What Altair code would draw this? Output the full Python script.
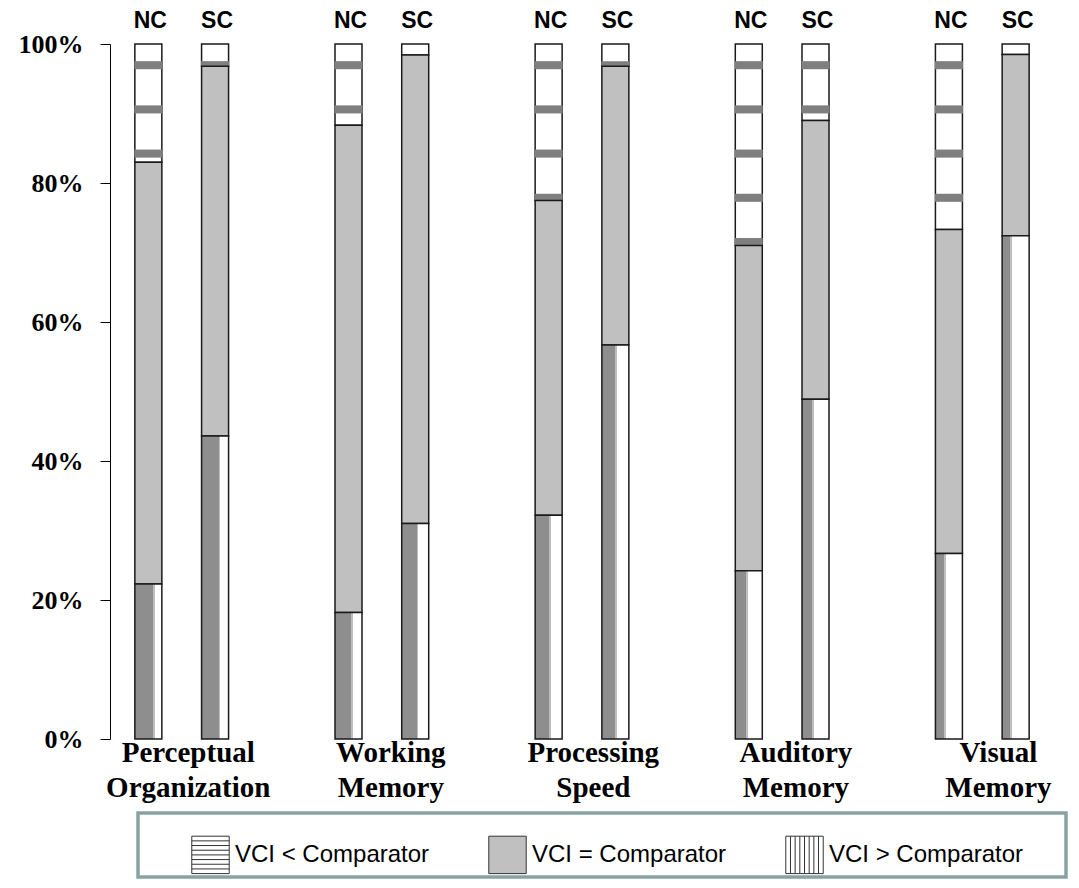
import altair as alt
import pandas as pd

# ---------------- data ----------------
groups = ["Perceptual Organization", "Working Memory", "Processing Speed",
          "Auditory Memory", "Visual Memory"]
samples = ["NC", "SC"]
categories = ["VCI < Comparator", "VCI = Comparator", "VCI > Comparator"]

# percentage of each bar, order: PO-NC, PO-SC, WM-NC, WM-SC, PS-NC, PS-SC, AM-NC, AM-SC, VM-NC, VM-SC
vci_greater = [22.3, 43.6, 18.2, 31.0, 32.2, 56.7, 24.2, 48.9, 26.7, 72.4]
vci_equal = [60.7, 53.2, 70.1, 67.4, 45.3, 40.1, 46.8, 40.1, 46.6, 26.1]
vci_less = [17.0, 3.2, 11.7, 1.6, 22.5, 3.2, 29.0, 11.0, 26.7, 1.5]

# ---------------- style ----------------
dark_share = [0.66, 0.63, 0.58, 0.55, 0.50, 0.48, 0.40, 0.37, 0.33, 0.30]  # vertical hatch rendering
STRIPE_TOP = 0.9695
STRIPE_STEP = 0.0636
STRIPE_HALF = 0.0058
BAR_W = 27
EDGE = "#1a1a1a"
LABEL_STEP, LABEL_START = 3.036, 0.598  # category label spacing (in bar slots)

rows, stripes = [], []
for gi, g in enumerate(groups):
    for si, s in enumerate(samples):
        i = gi * 2 + si
        slot = gi * 3 + si
        a = vci_greater[i] / 100
        b = a + vci_equal[i] / 100
        c = b + vci_less[i] / 100
        rows.append(dict(bar=i, slot=slot, sample=s, seg=">", y=0.0, y2=a))
        rows.append(dict(bar=i, slot=slot, sample=s, seg="=", y=a, y2=b))
        rows.append(dict(bar=i, slot=slot, sample=s, seg="<", y=b, y2=c))
        k = 0
        while True:
            cen = STRIPE_TOP - k * STRIPE_STEP
            lo, hi = cen - STRIPE_HALF, cen + STRIPE_HALF
            if hi <= b:
                break
            stripes.append(dict(slot=slot, y=max(lo, b), y2=hi))
            k += 1

seg_df = pd.DataFrame(rows)
stripe_df = pd.DataFrame(stripes)
bar_df = seg_df[seg_df.seg == ">"][["bar", "slot", "sample"]]
grp_df = pd.DataFrame({"group": groups,
                       "center": [LABEL_START + gi * LABEL_STEP for gi in range(len(groups))]})
leg_df = pd.DataFrame({"cat": categories})

W, H = 944, 695
xscale = alt.Scale(domain=[-0.5, 13.5], nice=False, zero=False)
X = alt.X("slot:Q", scale=xscale, axis=None)
Y = alt.Y("y:Q", scale=alt.Scale(domain=[0, 1], nice=False),
          axis=alt.Axis(format=".0%", values=[0, 0.2, 0.4, 0.6, 0.8, 1.0], title=None,
                        grid=False, domainColor="black", tickColor="black", tickSize=10,
                        labelPadding=17, labelFont="Liberation Serif", labelFontWeight="bold",
                        labelFontSize=26, labelColor="black", domainWidth=1, tickWidth=1))

top = alt.Chart(seg_df).transform_filter(alt.datum.seg == "<").mark_bar(
    size=BAR_W, fill="white", stroke=EDGE, strokeWidth=1.5).encode(x=X, y=Y, y2="y2:Q")

stripe_layer = alt.Chart(stripe_df).mark_bar(size=BAR_W + 1, fill="#7f7f7f").encode(
    x=X, y=alt.Y("y:Q"), y2="y2:Q")

mid = alt.Chart(seg_df).transform_filter(alt.datum.seg == "=").mark_bar(
    size=BAR_W, fill="#c0c0c0", stroke=EDGE, strokeWidth=1.5).encode(x=X, y=alt.Y("y:Q"), y2="y2:Q")

bottoms = []
for i in range(len(vci_greater)):
    f = dark_share[i]
    grad = {"gradient": "linear", "x1": 0, "y1": 0, "x2": 1, "y2": 0,
            "stops": [{"offset": 0, "color": "#8e8e8e"}, {"offset": f, "color": "#8e8e8e"},
                      {"offset": f, "color": "#bebebe"}, {"offset": f + 0.07, "color": "#bebebe"},
                      {"offset": f + 0.07, "color": "#ffffff"}, {"offset": 1, "color": "#ffffff"}]}
    bottoms.append(
        alt.Chart(seg_df).transform_filter((alt.datum.seg == ">") & (alt.datum.bar == i)).mark_bar(
            size=BAR_W, fill=grad, stroke=EDGE, strokeWidth=1.5).encode(x=X, y=alt.Y("y:Q"), y2="y2:Q"))

h_path = "M-1,-1H1V1H-1Z" + "".join(f"M-1,{v}H1" for v in [-0.75, -0.5, -0.25, 0, 0.25, 0.5, 0.75])
v_path = "M-1,-1H1V1H-1Z" + "".join(f"M{v},-1V1" for v in [-0.75, -0.5, -0.25, 0, 0.25, 0.5, 0.75])
sq_path = "M-1,-1H1V1H-1Z"

leg = alt.Legend(orient="none", legendX=81, legendY=791, direction="horizontal", title=None,
                 symbolSize=1400, labelFont="Liberation Sans", labelFontSize=24, labelColor="black",
                 columnPadding=56, symbolStrokeWidth=1, labelLimit=400,
                 labelOffset=5, padding=0, symbolOpacity=1)

legend_layer = alt.Chart(leg_df).transform_filter("false").mark_point(filled=True).encode(
    x=alt.value(0), y=alt.value(0),
    fill=alt.Fill("cat:N", scale=alt.Scale(domain=categories, range=["#ffffff", "#c0c0c0", "#ffffff"]),
                  legend=leg),
    stroke=alt.Stroke("cat:N", scale=alt.Scale(domain=categories, range=["#333333", "#333333", "#333333"]),
                      legend=leg),
    shape=alt.Shape("cat:N", scale=alt.Scale(domain=categories, range=[h_path, sq_path, v_path]),
                    legend=leg))

frame = alt.Chart(pd.DataFrame({"k": [0]})).mark_rect(
    fill=None, stroke="#88a2a2", strokeWidth=3.5).encode(
    x=alt.value(28), x2=alt.value(956), y=alt.value(769), y2=alt.value(833))

sample_txt = alt.Chart(bar_df).mark_text(
    font="Liberation Sans", fontWeight="bold", fontSize=23, baseline="alphabetic", align="center",
    color="black", dx=2).encode(x=X, y=alt.value(-16), text="sample:N")

group_txt = alt.Chart(grp_df).mark_text(
    font="Liberation Serif", fontWeight="bold", fontSize=29, baseline="alphabetic", align="center",
    lineBreak=" ", lineHeight=35, color="black").encode(
    x=alt.X("center:Q", scale=xscale, axis=None), y=alt.value(718), text="group:N")

chart = alt.layer(top, stripe_layer, mid, *bottoms, legend_layer, frame, sample_txt, group_txt).properties(
    width=W, height=H, background="white",
    autosize=alt.AutoSizeParams(type="none"),
    padding={"left": 102, "top": 36, "right": 17, "bottom": 141},
).configure_view(stroke=None)

chart.save("out.html", embed_options={"renderer": "svg", "actions": False})
